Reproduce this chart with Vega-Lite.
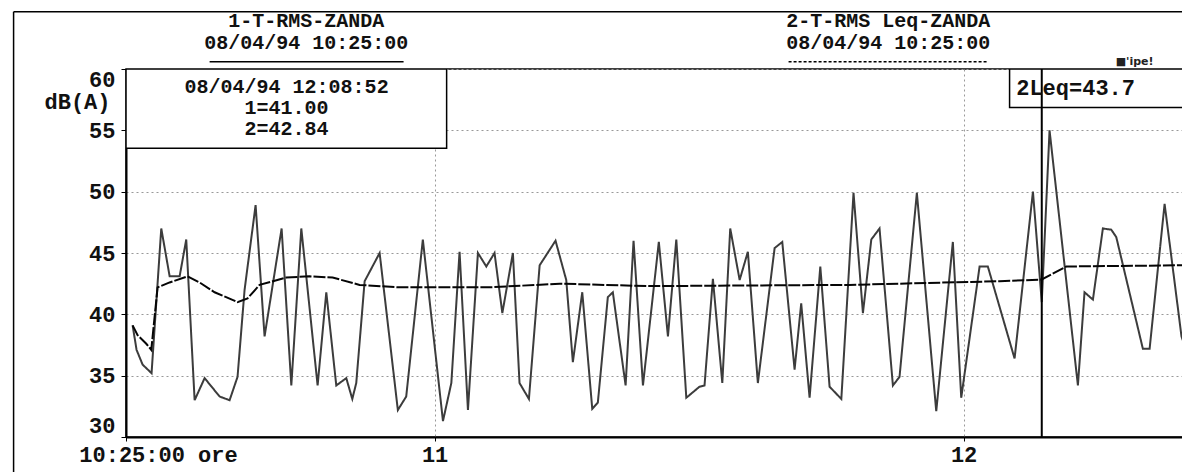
{
  "$schema": "https://vega.github.io/schema/vega-lite/v6.json",
  "width": 1058,
  "height": 368,
  "autosize": {"type": "none"},
  "padding": {"left": 126, "top": 69, "right": 0, "bottom": 35},
  "background": "white",
  "config": {"view": {"stroke": "#000", "strokeWidth": 1.5}, "font": "Liberation Mono"},
  "datasets": {
    "levels": [
      {"time": "1994-04-08T10:25:45", "db": 39.1, "series": "1-T-RMS"},
      {"time": "1994-04-08T10:26:12", "db": 37.1, "series": "1-T-RMS"},
      {"time": "1994-04-08T10:26:53", "db": 35.9, "series": "1-T-RMS"},
      {"time": "1994-04-08T10:27:54", "db": 35.2, "series": "1-T-RMS"},
      {"time": "1994-04-08T10:29:00", "db": 47.0, "series": "1-T-RMS"},
      {"time": "1994-04-08T10:29:57", "db": 43.1, "series": "1-T-RMS"},
      {"time": "1994-04-08T10:31:05", "db": 43.1, "series": "1-T-RMS"},
      {"time": "1994-04-08T10:31:50", "db": 46.1, "series": "1-T-RMS"},
      {"time": "1994-04-08T10:32:47", "db": 33.0, "series": "1-T-RMS"},
      {"time": "1994-04-08T10:33:55", "db": 34.8, "series": "1-T-RMS"},
      {"time": "1994-04-08T10:35:37", "db": 33.3, "series": "1-T-RMS"},
      {"time": "1994-04-08T10:36:45", "db": 33.0, "series": "1-T-RMS"},
      {"time": "1994-04-08T10:37:39", "db": 34.9, "series": "1-T-RMS"},
      {"time": "1994-04-08T10:38:27", "db": 42.0, "series": "1-T-RMS"},
      {"time": "1994-04-08T10:39:42", "db": 48.9, "series": "1-T-RMS"},
      {"time": "1994-04-08T10:40:43", "db": 38.2, "series": "1-T-RMS"},
      {"time": "1994-04-08T10:42:39", "db": 47.0, "series": "1-T-RMS"},
      {"time": "1994-04-08T10:43:45", "db": 34.2, "series": "1-T-RMS"},
      {"time": "1994-04-08T10:44:53", "db": 47.0, "series": "1-T-RMS"},
      {"time": "1994-04-08T10:46:44", "db": 34.2, "series": "1-T-RMS"},
      {"time": "1994-04-08T10:47:43", "db": 41.8, "series": "1-T-RMS"},
      {"time": "1994-04-08T10:48:51", "db": 34.2, "series": "1-T-RMS"},
      {"time": "1994-04-08T10:49:59", "db": 34.8, "series": "1-T-RMS"},
      {"time": "1994-04-08T10:50:40", "db": 33.1, "series": "1-T-RMS"},
      {"time": "1994-04-08T10:51:07", "db": 34.4, "series": "1-T-RMS"},
      {"time": "1994-04-08T10:52:04", "db": 42.7, "series": "1-T-RMS"},
      {"time": "1994-04-08T10:53:46", "db": 45.0, "series": "1-T-RMS"},
      {"time": "1994-04-08T10:55:50", "db": 32.2, "series": "1-T-RMS"},
      {"time": "1994-04-08T10:56:47", "db": 33.3, "series": "1-T-RMS"},
      {"time": "1994-04-08T10:58:40", "db": 46.1, "series": "1-T-RMS"},
      {"time": "1994-04-08T11:00:57", "db": 31.3, "series": "1-T-RMS"},
      {"time": "1994-04-08T11:01:54", "db": 34.4, "series": "1-T-RMS"},
      {"time": "1994-04-08T11:02:50", "db": 45.1, "series": "1-T-RMS"},
      {"time": "1994-04-08T11:03:47", "db": 32.2, "series": "1-T-RMS"},
      {"time": "1994-04-08T11:04:55", "db": 45.0, "series": "1-T-RMS"},
      {"time": "1994-04-08T11:05:52", "db": 43.9, "series": "1-T-RMS"},
      {"time": "1994-04-08T11:06:48", "db": 45.0, "series": "1-T-RMS"},
      {"time": "1994-04-08T11:07:41", "db": 40.1, "series": "1-T-RMS"},
      {"time": "1994-04-08T11:08:53", "db": 45.0, "series": "1-T-RMS"},
      {"time": "1994-04-08T11:09:38", "db": 34.4, "series": "1-T-RMS"},
      {"time": "1994-04-08T11:10:42", "db": 33.1, "series": "1-T-RMS"},
      {"time": "1994-04-08T11:11:55", "db": 44.0, "series": "1-T-RMS"},
      {"time": "1994-04-08T11:13:43", "db": 46.0, "series": "1-T-RMS"},
      {"time": "1994-04-08T11:14:56", "db": 42.8, "series": "1-T-RMS"},
      {"time": "1994-04-08T11:15:41", "db": 36.1, "series": "1-T-RMS"},
      {"time": "1994-04-08T11:16:45", "db": 41.8, "series": "1-T-RMS"},
      {"time": "1994-04-08T11:17:53", "db": 32.3, "series": "1-T-RMS"},
      {"time": "1994-04-08T11:18:31", "db": 32.8, "series": "1-T-RMS"},
      {"time": "1994-04-08T11:19:39", "db": 41.4, "series": "1-T-RMS"},
      {"time": "1994-04-08T11:20:13", "db": 41.8, "series": "1-T-RMS"},
      {"time": "1994-04-08T11:21:40", "db": 34.2, "series": "1-T-RMS"},
      {"time": "1994-04-08T11:22:34", "db": 46.0, "series": "1-T-RMS"},
      {"time": "1994-04-08T11:23:38", "db": 34.2, "series": "1-T-RMS"},
      {"time": "1994-04-08T11:25:26", "db": 45.9, "series": "1-T-RMS"},
      {"time": "1994-04-08T11:26:28", "db": 38.2, "series": "1-T-RMS"},
      {"time": "1994-04-08T11:27:25", "db": 46.1, "series": "1-T-RMS"},
      {"time": "1994-04-08T11:28:33", "db": 33.2, "series": "1-T-RMS"},
      {"time": "1994-04-08T11:30:03", "db": 34.1, "series": "1-T-RMS"},
      {"time": "1994-04-08T11:30:37", "db": 34.2, "series": "1-T-RMS"},
      {"time": "1994-04-08T11:31:34", "db": 42.9, "series": "1-T-RMS"},
      {"time": "1994-04-08T11:32:38", "db": 34.4, "series": "1-T-RMS"},
      {"time": "1994-04-08T11:33:32", "db": 47.0, "series": "1-T-RMS"},
      {"time": "1994-04-08T11:34:36", "db": 42.8, "series": "1-T-RMS"},
      {"time": "1994-04-08T11:35:32", "db": 45.1, "series": "1-T-RMS"},
      {"time": "1994-04-08T11:36:40", "db": 34.4, "series": "1-T-RMS"},
      {"time": "1994-04-08T11:38:34", "db": 45.4, "series": "1-T-RMS"},
      {"time": "1994-04-08T11:39:26", "db": 45.9, "series": "1-T-RMS"},
      {"time": "1994-04-08T11:40:50", "db": 35.5, "series": "1-T-RMS"},
      {"time": "1994-04-08T11:41:35", "db": 40.9, "series": "1-T-RMS"},
      {"time": "1994-04-08T11:42:32", "db": 33.2, "series": "1-T-RMS"},
      {"time": "1994-04-08T11:43:45", "db": 43.9, "series": "1-T-RMS"},
      {"time": "1994-04-08T11:44:48", "db": 34.1, "series": "1-T-RMS"},
      {"time": "1994-04-08T11:46:08", "db": 33.1, "series": "1-T-RMS"},
      {"time": "1994-04-08T11:47:31", "db": 49.9, "series": "1-T-RMS"},
      {"time": "1994-04-08T11:48:35", "db": 40.1, "series": "1-T-RMS"},
      {"time": "1994-04-08T11:49:32", "db": 46.1, "series": "1-T-RMS"},
      {"time": "1994-04-08T11:50:28", "db": 47.0, "series": "1-T-RMS"},
      {"time": "1994-04-08T11:51:59", "db": 34.2, "series": "1-T-RMS"},
      {"time": "1994-04-08T11:52:44", "db": 34.9, "series": "1-T-RMS"},
      {"time": "1994-04-08T11:54:42", "db": 49.9, "series": "1-T-RMS"},
      {"time": "1994-04-08T11:56:54", "db": 32.1, "series": "1-T-RMS"},
      {"time": "1994-04-08T11:58:47", "db": 45.9, "series": "1-T-RMS"},
      {"time": "1994-04-08T11:59:44", "db": 33.2, "series": "1-T-RMS"},
      {"time": "1994-04-08T12:01:49", "db": 43.9, "series": "1-T-RMS"},
      {"time": "1994-04-08T12:02:45", "db": 43.9, "series": "1-T-RMS"},
      {"time": "1994-04-08T12:05:47", "db": 36.4, "series": "1-T-RMS"},
      {"time": "1994-04-08T12:07:52", "db": 50.0, "series": "1-T-RMS"},
      {"time": "1994-04-08T12:08:52", "db": 41.0, "series": "1-T-RMS"},
      {"time": "1994-04-08T12:09:45", "db": 55.0, "series": "1-T-RMS"},
      {"time": "1994-04-08T12:12:58", "db": 34.2, "series": "1-T-RMS"},
      {"time": "1994-04-08T12:13:43", "db": 41.8, "series": "1-T-RMS"},
      {"time": "1994-04-08T12:14:40", "db": 41.2, "series": "1-T-RMS"},
      {"time": "1994-04-08T12:15:48", "db": 47.0, "series": "1-T-RMS"},
      {"time": "1994-04-08T12:16:45", "db": 46.9, "series": "1-T-RMS"},
      {"time": "1994-04-08T12:17:19", "db": 46.3, "series": "1-T-RMS"},
      {"time": "1994-04-08T12:20:20", "db": 37.2, "series": "1-T-RMS"},
      {"time": "1994-04-08T12:21:06", "db": 37.2, "series": "1-T-RMS"},
      {"time": "1994-04-08T12:22:48", "db": 49.0, "series": "1-T-RMS"},
      {"time": "1994-04-08T12:24:43", "db": 38.2, "series": "1-T-RMS"},
      {"time": "1994-04-08T12:25:00", "db": 37.6, "series": "1-T-RMS"},
      {"time": "1994-04-08T10:25:45", "db": 39.1, "series": "2-T-RMS Leq"},
      {"time": "1994-04-08T10:26:19", "db": 38.3, "series": "2-T-RMS Leq"},
      {"time": "1994-04-08T10:27:18", "db": 37.6, "series": "2-T-RMS Leq"},
      {"time": "1994-04-08T10:27:52", "db": 37.1, "series": "2-T-RMS Leq"},
      {"time": "1994-04-08T10:28:35", "db": 42.2, "series": "2-T-RMS Leq"},
      {"time": "1994-04-08T10:29:57", "db": 42.6, "series": "2-T-RMS Leq"},
      {"time": "1994-04-08T10:31:59", "db": 43.1, "series": "2-T-RMS Leq"},
      {"time": "1994-04-08T10:33:21", "db": 42.6, "series": "2-T-RMS Leq"},
      {"time": "1994-04-08T10:35:03", "db": 41.8, "series": "2-T-RMS Leq"},
      {"time": "1994-04-08T10:37:39", "db": 41.0, "series": "2-T-RMS Leq"},
      {"time": "1994-04-08T10:38:47", "db": 41.3, "series": "2-T-RMS Leq"},
      {"time": "1994-04-08T10:40:09", "db": 42.4, "series": "2-T-RMS Leq"},
      {"time": "1994-04-08T10:43:11", "db": 43.0, "series": "2-T-RMS Leq"},
      {"time": "1994-04-08T10:45:49", "db": 43.1, "series": "2-T-RMS Leq"},
      {"time": "1994-04-08T10:48:26", "db": 43.0, "series": "2-T-RMS Leq"},
      {"time": "1994-04-08T10:51:30", "db": 42.4, "series": "2-T-RMS Leq"},
      {"time": "1994-04-08T10:56:02", "db": 42.2, "series": "2-T-RMS Leq"},
      {"time": "1994-04-08T11:06:14", "db": 42.2, "series": "2-T-RMS Leq"},
      {"time": "1994-04-08T11:14:11", "db": 42.5, "series": "2-T-RMS Leq"},
      {"time": "1994-04-08T11:24:23", "db": 42.3, "series": "2-T-RMS Leq"},
      {"time": "1994-04-08T11:47:04", "db": 42.4, "series": "2-T-RMS Leq"},
      {"time": "1994-04-08T12:04:05", "db": 42.7, "series": "2-T-RMS Leq"},
      {"time": "1994-04-08T12:08:52", "db": 42.84, "series": "2-T-RMS Leq"},
      {"time": "1994-04-08T12:11:39", "db": 43.9, "series": "2-T-RMS Leq"},
      {"time": "1994-04-08T12:25:00", "db": 44.0, "series": "2-T-RMS Leq"}
    ],
    "boxes": [
      {"time": "1994-04-08T10:25:00", "time2": "1994-04-08T11:01:22", "db": 60, "db2": 53.53},
      {"time": "1994-04-08T12:05:13", "time2": "1994-04-08T12:40:00", "db": 60, "db2": 56.87}
    ],
    "centerText": [
      {"time": "1994-04-08T10:45:26", "db": 63.9, "label": "1-T-RMS-ZANDA"},
      {"time": "1994-04-08T10:45:26", "db": 62.12, "label": "08/04/94 10:25:00"},
      {"time": "1994-04-08T11:51:27", "db": 63.9, "label": "2-T-RMS Leq-ZANDA"},
      {"time": "1994-04-08T11:51:27", "db": 62.12, "label": "08/04/94 10:25:00"},
      {"time": "1994-04-08T10:43:13", "db": 58.53, "label": "08/04/94 12:08:52"},
      {"time": "1994-04-08T10:43:13", "db": 56.82, "label": "1=41.00"},
      {"time": "1994-04-08T10:43:13", "db": 55.11, "label": "2=42.84"}
    ],
    "leftText": [
      {"time": "1994-04-08T12:05:58", "db": 58.45, "label": "2Leq=43.7"}
    ],
    "smallText": [
      {"time": "1994-04-08T12:19:24", "db": 60.6, "label": "■'ipe!"}
    ],
    "frame": [
      {"time": "1994-04-08T10:12:15", "time2": "1994-04-08T12:40:00", "db": 64.67, "db2": 64.67},
      {"time": "1994-04-08T10:12:15", "time2": "1994-04-08T10:12:15", "db": 64.67, "db2": 27}
    ],
    "underline1": [
      {"time": "1994-04-08T10:34:29", "time2": "1994-04-08T10:56:29", "db": 60.6, "db2": 60.6}
    ],
    "underline2": [
      {"time": "1994-04-08T11:40:09", "time2": "1994-04-08T12:02:43", "db": 60.6, "db2": 60.6}
    ]
  },
  "layer": [
    {
      "data": {"name": "levels"},
      "mark": {"type": "line", "strokeWidth": 2, "clip": true},
      "encoding": {
        "x": {
          "field": "time", "type": "temporal",
          "scale": {"domain": [
            {"year": 1994, "month": 4, "date": 8, "hours": 10, "minutes": 25},
            {"year": 1994, "month": 4, "date": 8, "hours": 12, "minutes": 25}
          ]},
          "axis": {
            "title": null,
            "values": [
              {"year": 1994, "month": 4, "date": 8, "hours": 10, "minutes": 25},
              {"year": 1994, "month": 4, "date": 8, "hours": 11, "minutes": 0},
              {"year": 1994, "month": 4, "date": 8, "hours": 12, "minutes": 0}
            ],
            "labelExpr": "hours(datum.value) == 10 ? '10:25:00 ore' : '' + hours(datum.value)",
            "labelFlush": false,
            "labelOffset": {"condition": {"test": "hours(datum.value) == 10", "value": 32}, "value": 0},
            "labelFont": "Liberation Mono", "labelFontWeight": "bold", "labelFontSize": 22, "labelColor": "#111",
            "labelPadding": 3, "tickSize": 4, "tickColor": "#000",
            "domainColor": "#000", "domainWidth": 2,
            "grid": true, "gridColor": "#999", "gridDash": [2, 3], "gridWidth": 1
          }
        },
        "y": {
          "field": "db", "type": "quantitative",
          "scale": {"domain": [30, 60]},
          "axis": {
            "title": "dB(A)", "titleAngle": 0, "titleAlign": "right", "titleBaseline": "middle",
            "titleX": -16, "titleY": 32, "titleFont": "Liberation Mono", "titleFontWeight": "bold", "titleFontSize": 22, "titleColor": "#111",
            "values": [30, 35, 40, 45, 50, 55, 60],
            "labelFlush": true,
            "labelFont": "Liberation Mono", "labelFontWeight": "bold", "labelFontSize": 22, "labelColor": "#111",
            "labelPadding": 6, "tickSize": 5, "tickColor": "#000",
            "domainColor": "#000", "domainWidth": 2,
            "grid": true, "gridColor": "#999", "gridDash": [2, 3], "gridWidth": 1
          }
        },
        "color": {"field": "series", "type": "nominal", "scale": {"domain": ["1-T-RMS", "2-T-RMS Leq"], "range": ["#3c3c3c", "#050505"]}, "legend": null},
        "strokeDash": {"field": "series", "type": "nominal", "scale": {"domain": ["1-T-RMS", "2-T-RMS Leq"], "range": [[1, 0], [12, 2]]}, "legend": null}
      }
    },
    {
      "data": {"name": "boxes"},
      "mark": {"type": "rect", "fill": "white", "stroke": "#000", "strokeWidth": 1.5, "clip": true},
      "encoding": {
        "x": {"field": "time", "type": "temporal"},
        "x2": {"field": "time2"},
        "y": {"field": "db", "type": "quantitative"},
        "y2": {"field": "db2"}
      }
    },
    {
      "data": {"values": [{"time": "1994-04-08T12:08:52"}]},
      "mark": {"type": "rule", "color": "#000", "strokeWidth": 2},
      "encoding": {"x": {"field": "time", "type": "temporal"}}
    },
    {
      "data": {"name": "frame"},
      "mark": {"type": "rule", "color": "#000", "strokeWidth": 1.5},
      "encoding": {
        "x": {"field": "time", "type": "temporal"},
        "x2": {"field": "time2"},
        "y": {"field": "db", "type": "quantitative"},
        "y2": {"field": "db2"}
      }
    },
    {
      "data": {"name": "underline1"},
      "mark": {"type": "rule", "color": "#000", "strokeWidth": 1.5},
      "encoding": {
        "x": {"field": "time", "type": "temporal"},
        "x2": {"field": "time2"},
        "y": {"field": "db", "type": "quantitative"},
        "y2": {"field": "db2"}
      }
    },
    {
      "data": {"name": "underline2"},
      "mark": {"type": "rule", "color": "#000", "strokeWidth": 1.5, "strokeDash": [3, 2]},
      "encoding": {
        "x": {"field": "time", "type": "temporal"},
        "x2": {"field": "time2"},
        "y": {"field": "db", "type": "quantitative"},
        "y2": {"field": "db2"}
      }
    },
    {
      "data": {"name": "centerText"},
      "mark": {"type": "text", "font": "Liberation Mono", "fontWeight": "bold", "fontSize": 20, "align": "center", "baseline": "middle", "color": "#111"},
      "encoding": {
        "x": {"field": "time", "type": "temporal"},
        "y": {"field": "db", "type": "quantitative"},
        "text": {"field": "label"}
      }
    },
    {
      "data": {"name": "leftText"},
      "mark": {"type": "text", "font": "Liberation Mono", "fontWeight": "bold", "fontSize": 22, "align": "left", "baseline": "middle", "color": "#111"},
      "encoding": {
        "x": {"field": "time", "type": "temporal"},
        "y": {"field": "db", "type": "quantitative"},
        "text": {"field": "label"}
      }
    },
    {
      "data": {"name": "smallText"},
      "mark": {"type": "text", "font": "DejaVu Sans", "fontWeight": "bold", "fontSize": 11, "align": "center", "baseline": "middle", "color": "#222"},
      "encoding": {
        "x": {"field": "time", "type": "temporal"},
        "y": {"field": "db", "type": "quantitative"},
        "text": {"field": "label"}
      }
    }
  ]
}
